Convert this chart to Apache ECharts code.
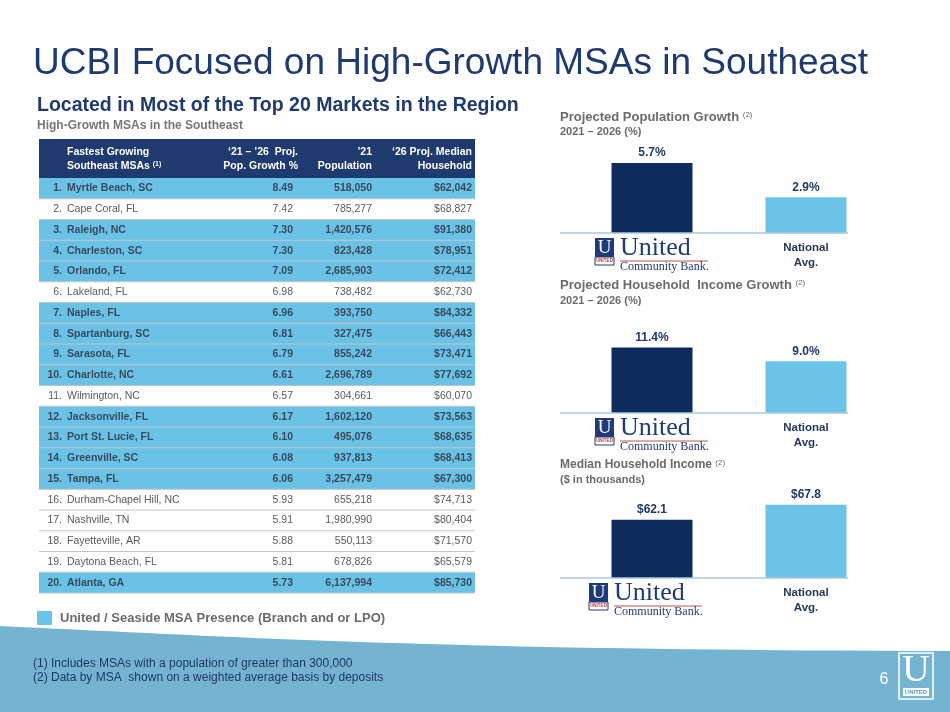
<!DOCTYPE html>
<html>
<head>
<meta charset="utf-8">
<title>UCBI Focused on High-Growth MSAs in Southeast</title>
<script src="https://cdn.jsdelivr.net/npm/echarts@6.0.0/dist/echarts.min.js"></script>
<style>
  html, body { margin: 0; padding: 0; background: #fff; }
  #chart { width: 950px; height: 712px; }
</style>
</head>
<body>
<div id="chart"></div>
<script>
// table data
const msaNames = [
  "Myrtle Beach, SC", "Cape Coral, FL", "Raleigh, NC", "Charleston, SC", "Orlando, FL",
  "Lakeland, FL", "Naples, FL", "Spartanburg, SC", "Sarasota, FL", "Charlotte, NC",
  "Wilmington, NC", "Jacksonville, FL", "Port St. Lucie, FL", "Greenville, SC", "Tampa, FL",
  "Durham-Chapel Hill, NC", "Nashville, TN", "Fayetteville, AR", "Daytona Beach, FL", "Atlanta, GA"
];
const popGrowth = [8.49, 7.42, 7.30, 7.30, 7.09, 6.98, 6.96, 6.81, 6.79, 6.61,
                   6.57, 6.17, 6.10, 6.08, 6.06, 5.93, 5.91, 5.88, 5.81, 5.73];
const population = [518050, 785277, 1420576, 823428, 2685903, 738482, 393750, 327475, 855242, 2696789,
                    304661, 1602120, 495076, 937813, 3257479, 655218, 1980990, 550113, 678826, 6137994];
const medianIncome = [62042, 68827, 91380, 78951, 72412, 62730, 84332, 66443, 73471, 77692,
                      60070, 73563, 68635, 68413, 67300, 74713, 80404, 71570, 65579, 85730];
// United / Seaside presence (highlighted rows)
const hasPresence = [true, false, true, true, true, false, true, true, true, true,
                     false, true, true, true, true, false, false, false, false, true];

// right-hand bar charts
const barCategories = ["United Community Bank", "National Avg."];
const popGrowthBars = [5.7, 2.9];
const incomeGrowthBars = [11.4, 9.0];
const medianIncomeBars = [62.1, 67.8];

const NAVY = "#1F3A70";
const DARK = "#0E2D5E";
const LIGHT = "#6CC3E8";
const GREY = "#6B6B6B";
const FONT = "'Liberation Sans', Arial, sans-serif";
const SERIF = "'Liberation Serif', 'Times New Roman', serif";
const NARROW = "'Liberation Sans Narrow', 'Liberation Sans', Arial, sans-serif";

const fmt = (n) => n.toLocaleString("en-US");

function txt(x, y, text, opt) {
  return {
    type: "text", x: x, y: y, z: 10,
    style: Object.assign({
      text: text, fontFamily: FONT, fontSize: 11, fill: NAVY,
      align: "left", verticalAlign: "middle"
    }, opt || {})
  };
}

const graphics = [];

// footer wave (cubic curve sampled into a polygon)
const wavePts = [];
for (let k = 0; k <= 40; k++) {
  const t = k / 40, u = 1 - t;
  const x = 3 * u * u * t * 250 + 3 * u * t * t * 450 + t * t * t * 950;
  const y = u * u * u * 626 + 3 * u * u * t * 638 + 3 * u * t * t * 650 + t * t * t * 651;
  wavePts.push([x, y]);
}
wavePts.push([950, 712], [0, 712]);
graphics.push({ type: "polygon", z: 1, shape: { points: wavePts }, style: { fill: "#74B4D1" } });

// headings
graphics.push(txt(33, 64, "UCBI Focused on High-Growth MSAs in Southeast", { fontSize: 37, fill: NAVY }));
graphics.push(txt(37, 106, "Located in Most of the Top 20 Markets in the Region", { fontSize: 19.5, fontWeight: "bold", fill: NAVY }));
graphics.push(txt(37, 126, "High-Growth MSAs in the Southeast", { fontSize: 12, fontWeight: "bold", fill: "#767676" }));

// table
const tLeft = 39, tRight = 475, headTop = 139, headH = 39, rowH = 20.75;
graphics.push({ type: "rect", z: 5, shape: { x: tLeft, y: headTop, width: tRight - tLeft, height: headH }, style: { fill: "#1F3A6E" } });
const hs = { fontSize: 10.5, fontWeight: "bold", fill: "#fff" };
graphics.push(txt(67, 152, "Fastest Growing", hs));
graphics.push({
  type: "text", x: 67, y: 166, z: 10,
  style: {
    text: "{t|Southeast MSAs }{s|(1)}", verticalAlign: "middle",
    rich: {
      t: { fontSize: 10.5, fontWeight: "bold", fill: "#fff", fontFamily: FONT },
      s: { fontSize: 7, fontWeight: "bold", fill: "#fff", fontFamily: FONT, verticalAlign: "top" }
    }
  }
});
graphics.push(txt(298, 152, "\u201821 \u2013 \u201926  Proj.", Object.assign({ align: "right" }, hs)));
graphics.push(txt(298, 166, "Pop. Growth %", Object.assign({ align: "right" }, hs)));
graphics.push(txt(372, 152, "\u201921", Object.assign({ align: "right" }, hs)));
graphics.push(txt(372, 166, "Population", Object.assign({ align: "right" }, hs)));
graphics.push(txt(472, 152, "\u201826 Proj. Median", Object.assign({ align: "right" }, hs)));
graphics.push(txt(472, 166, "Household", Object.assign({ align: "right" }, hs)));

msaNames.forEach(function (name, i) {
  const top = headTop + headH + i * rowH;
  const cy = top + rowH / 2;
  const on = hasPresence[i];
  if (on) {
    graphics.push({ type: "rect", z: 4, shape: { x: tLeft, y: top, width: tRight - tLeft, height: rowH }, style: { fill: "#6AC2E7" } });
  }
  graphics.push({ type: "line", z: 6, shape: { x1: tLeft, y1: top + rowH, x2: tRight, y2: top + rowH }, style: { stroke: "#C4C4C4", lineWidth: 1 } });
  const s = { fontSize: 10.5, fontWeight: on ? "bold" : "normal", fill: on ? "#3A4A5C" : "#5A5A5A" };
  graphics.push(txt(62, cy, (i + 1) + ".", Object.assign({ align: "right" }, s)));
  graphics.push(txt(67, cy, name, s));
  graphics.push(txt(293, cy, popGrowth[i].toFixed(2), Object.assign({ align: "right" }, s)));
  graphics.push(txt(372, cy, fmt(population[i]), Object.assign({ align: "right" }, s)));
  graphics.push(txt(472, cy, "$" + fmt(medianIncome[i]), Object.assign({ align: "right" }, s)));
});

// legend
graphics.push({ type: "rect", z: 5, shape: { x: 37, y: 611, width: 15, height: 14 }, style: { fill: LIGHT } });
graphics.push(txt(60, 618, "United / Seaside MSA Presence (Branch and or LPO)", { fontSize: 13, fontWeight: "bold", fill: "#6B6B6B" }));

// footnotes
graphics.push(txt(33, 664, "(1) Includes MSAs with a population of greater than 300,000", { fontFamily: NARROW, fontSize: 12, fill: "#1F3864" }));
graphics.push(txt(33, 678, "(2) Data by MSA  shown on a weighted average basis by deposits", { fontFamily: NARROW, fontSize: 12, fill: "#1F3864" }));

// page number + corner logo
graphics.push(txt(884, 680, "6", { fontSize: 16, fill: "#fff", align: "center" }));
graphics.push({ type: "rect", z: 5, shape: { x: 899, y: 653, width: 34, height: 46 }, style: { fill: "none", stroke: "#fff", lineWidth: 1.5 } });
graphics.push(txt(916, 671, "U", { fontFamily: SERIF, fontSize: 38, fill: "#fff", align: "center" }));
graphics.push({ type: "rect", z: 6, shape: { x: 903, y: 688, width: 26, height: 8 }, style: { fill: "#fff" } });
graphics.push(txt(916, 692.5, "UNITED", { fontSize: 6, fontWeight: "bold", fill: "#5B9CC2", align: "center" }));

// bar chart panels
const panels = [
  { title: "Projected Population Growth ", tsize: 13, sub: "2021 \u2013 2026 (%)", ty: 117, sy: 132, top: 147, height: 86, min: 0, max: 7, data: popGrowthBars, fmt: (v) => v.toFixed(1) + "%", logoX: 595 },
  { title: "Projected Household  Income Growth ", tsize: 13, sub: "2021 \u2013 2026 (%)", ty: 285, sy: 301, top: 344, height: 69, min: 0, max: 12, data: incomeGrowthBars, fmt: (v) => v.toFixed(1) + "%", logoX: 595 },
  { title: "Median Household Income ", tsize: 12, sub: "($ in thousands)", ty: 465, sy: 480, top: 499, height: 79, min: 40, max: 70, data: medianIncomeBars, fmt: (v) => "$" + v.toFixed(1), logoX: 589 }
];

panels.forEach(function (p) {
  graphics.push({
    type: "text", x: 560, y: p.ty, z: 10,
    style: {
      text: "{t|" + p.title + "}{s|(2)}", verticalAlign: "middle",
      rich: {
        t: { fontSize: p.tsize, fontWeight: "bold", fill: GREY, fontFamily: FONT },
        s: { fontSize: 8, fill: GREY, fontFamily: FONT, verticalAlign: "top" }
      }
    }
  });
  graphics.push(txt(560, p.sy, p.sub, { fontSize: 11, fontWeight: "bold", fill: GREY }));
  const ax = p.top + p.height;
  graphics.push({ type: "line", z: 6, shape: { x1: 560, y1: ax, x2: 848, y2: ax }, style: { stroke: "#A9CADB", lineWidth: 1.5 } });
  // United Community Bank logo under the first bar
  const L = p.logoX;
  graphics.push({ type: "rect", z: 6, shape: { x: L, y: ax + 5, width: 19, height: 19 }, style: { fill: "#1F3A7A" } });
  graphics.push(txt(L + 9.5, ax + 15, "U", { fontFamily: SERIF, fontSize: 19, fill: "#fff", align: "center" }));
  graphics.push({ type: "rect", z: 6, shape: { x: L, y: ax + 24, width: 19, height: 8 }, style: { fill: "#fff", stroke: "#1F3A7A", lineWidth: 1 } });
  graphics.push(txt(L + 9.5, ax + 28, "UNITED", { fontSize: 4.5, fontWeight: "bold", fill: "#C0392B", align: "center" }));
  graphics.push(txt(L + 25, ax + 15, "United", { fontFamily: SERIF, fontSize: 26, fill: "#1F3A7A" }));
  graphics.push({ type: "line", z: 6, shape: { x1: L + 25, y1: ax + 28, x2: L + 113, y2: ax + 28 }, style: { stroke: "#C0504D", lineWidth: 1 } });
  graphics.push(txt(L + 25, ax + 34, "Community Bank.", { fontFamily: SERIF, fontSize: 12, fill: "#1F3A7A" }));
});

const option = {
  animation: false,
  backgroundColor: "#fff",
  grid: panels.map((p) => ({ left: 575, width: 308, top: p.top, height: p.height })),
  xAxis: panels.map((p, i) => ({
    type: "category", gridIndex: i, data: barCategories,
    axisLine: { show: false }, axisTick: { show: false },
    axisLabel: {
      margin: 7, fontFamily: FONT, fontSize: 11.5, fontWeight: "bold", color: "#233A5E", lineHeight: 15,
      formatter: (v, idx) => (idx === 0 ? "" : v.replace(" ", "\n"))
    }
  })),
  yAxis: panels.map((p, i) => ({ type: "value", gridIndex: i, min: p.min, max: p.max, show: false })),
  series: panels.map((p, i) => ({
    type: "bar", xAxisIndex: i, yAxisIndex: i, barWidth: 81,
    data: p.data.map((v, k) => ({ value: v, itemStyle: { color: k === 0 ? DARK : LIGHT } })),
    label: {
      show: true, position: "top", distance: 4, fontFamily: FONT, fontSize: 12, fontWeight: "bold", color: "#1F3A6E",
      formatter: (d) => p.fmt(d.value)
    }
  })),
  graphic: { elements: graphics }
};

const chart = echarts.init(document.getElementById("chart"));
chart.setOption(option);
</script>
</body>
</html>
